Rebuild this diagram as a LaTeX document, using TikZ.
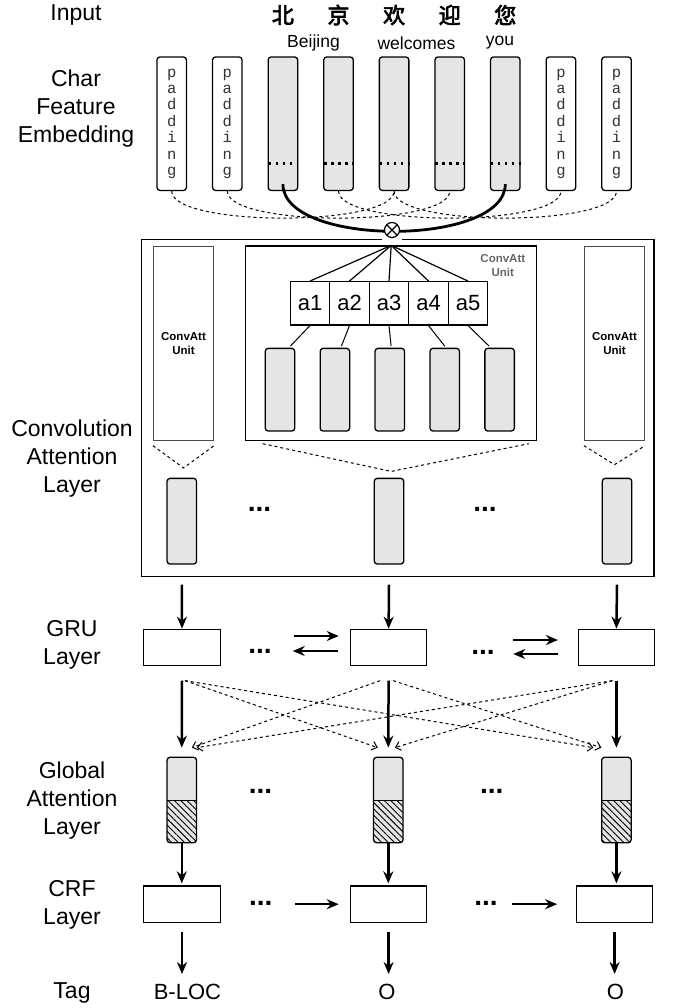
\documentclass[tikz,border=0pt]{standalone}
\usepackage{fontspec}
\setmainfont{Liberation Sans}
\setmonofont{Liberation Mono}
\newfontfamily\cjk[AutoFakeBold=3]{Noto Sans CJK SC}
\usetikzlibrary{arrows.meta,patterns.meta}

\begin{document}
\begin{tikzpicture}[x=1pt,y=-1pt,
        lbl/.style={align=center,font=\fontsize{23}{28}\selectfont},
        emb/.style={draw,line width=1.3pt,rounded corners=3pt,minimum width=29.5pt,minimum height=133.5pt,inner sep=0pt},
        pad/.style={emb,align=center,text=black!80,font=\fontsize{15.5}{16.4}\selectfont\ttfamily},
        word/.style={emb,fill=gray!20},
        col/.style={draw,line width=1.3pt,rounded corners=3pt,fill=gray!20,minimum width=29.5pt,minimum height=#1,inner sep=0pt},
        att/.style={col=85.4pt,path picture={
            \fill[pattern={Lines[angle=-45,distance=4.5pt,line width=0.9pt]}] (path picture bounding box.west) rectangle (path picture bounding box.south east);
            \draw[line width=1pt] (path picture bounding box.west) -- (path picture bounding box.east);}},
        unit/.style={draw=black!70,line width=1.3pt,minimum width=59.9pt,minimum height=194pt,inner sep=0pt,align=center,font=\fontsize{11.5}{14.5}\selectfont\bfseries},
        cell/.style={draw,line width=1.2pt,minimum width=39.5pt,minimum height=43.3pt,inner sep=0pt,font=\fontsize{22}{22}\selectfont},
        box/.style={draw,line width=1.3pt,minimum width=76.4pt,minimum height=36.4pt,inner sep=0pt},
        dots/.style={font=\fontsize{28}{28}\selectfont\bfseries,inner sep=0pt},
        arr/.style={line width=2.5pt,-{Stealth[length=12pt,width=10pt]}},
        darr/.style={dashed,line width=1pt,-{Straight Barb[length=5pt,width=9pt]}},
        mul/.style={circle,draw,line width=1.2pt,fill=white,minimum size=15pt,inner sep=0pt,path picture={
            \draw[line width=1.2pt] (path picture bounding box.north west) -- (path picture bounding box.south east)
                (path picture bounding box.north east) -- (path picture bounding box.south west);}}]
    \useasboundingbox (0,0) rectangle (673,1008);

    % layer names
    \node[lbl] (linput) at (76,15) {Input};
    \node[lbl] (lemb) at (76,109) {Char\\Feature\\Embedding};
    \node[lbl] (lconv) at (72,459) {Convolution\\Attention\\Layer};
    \node[lbl] (lgru) at (72,645) {GRU\\Layer};
    \node[lbl] (latt) at (72,801) {Global\\Attention\\Layer};
    \node[lbl] (lcrf) at (72,905) {CRF\\Layer};
    \node[lbl] (ltag) at (72,993) {Tag};

    % input and char embeddings
    \foreach \i/\z in {3/北,4/京,5/欢,6/迎,7/您}
        \node[font=\fontsize{22}{22}\selectfont\cjk\bfseries] (z\i) at ({171.7+55.6*(\i-1)},15) {\z};
    \node[font=\fontsize{17.5}{17.5}\selectfont] (w1) at (313.5,43) {Beijing};
    \node[font=\fontsize{17.5}{17.5}\selectfont] (w2) at (416.5,43) {welcomes};
    \node[font=\fontsize{17.5}{17.5}\selectfont] (w3) at (500,43) {you};
    \foreach \i in {1,2,8,9}
        \node[pad] (c\i) at ({171.7+55.6*(\i-1)},123.7) {p\\a\\d\\d\\i\\n\\g};
    \foreach \i in {3,...,7} {
        \node[word] (c\i) at ({171.7+55.6*(\i-1)},123.7) {};
        \draw[line width=2.5pt,dash pattern=on 2.5pt off 4.5pt] ([xshift=1pt,yshift=27.5pt]c\i.south west) -- ([yshift=27.5pt]c\i.south east);
    }

    % convolution attention layer
    \node[draw,line width=1.3pt,minimum width=512.2pt,minimum height=337.4pt,inner sep=0pt] (conv) at (397.8,408) {};
    \draw[white,line width=2pt] (382,239.3) -- (402,239.3);
    \foreach \p/\q in {1/5,2/6,4/8,5/9}
        \draw[dashed,line width=1pt] (c\p.south) .. controls +(0,36) and +(0,36) .. (c\q.south);
    \draw[line width=2.8pt] ([yshift=7pt]c3.south) .. controls +(0,63) and +(0,63) .. ([yshift=7pt]c7.south);
    \node[mul] (mul) at (392,230) {};

    \node[unit] (uleft) at (183.5,343.7) {ConvAtt\\Unit};
    \node[unit] (uright) at (614.5,343.7) {ConvAtt\\Unit};
    \node[draw,line width=1.3pt,minimum width=290.8pt,minimum height=194.7pt,inner sep=0pt] (umid) at (391.2,343.4) {};
    \node[font=\fontsize{11.5}{14}\selectfont\bfseries,text=black!60,align=center] (umidlbl) at (502.8,266) {ConvAtt\\Unit};
    \foreach \i in {1,...,5} {
        \node[cell] (a\i) at ({310+39.5*(\i-1)},303.3) {a\i};
        \node[col=82.7pt] (k\i) at ({280+54.9*(\i-1)},389.7) {};
        \draw[line width=1.2pt] (umid.north) -- (a\i.north);
    }
    \foreach \i/\o in {1/10.4,2/6.5,3/1.3,4/0,5/-10.5}
        \draw[line width=1pt] (a\i.south) -- ([xshift=\o pt,yshift=1.6pt]k\i.north);

    \draw[dashed,line width=1pt] ([yshift=-4.3pt]uleft.south west) -- ([yshift=-26.6pt]uleft.south) -- ([yshift=-4.3pt]uleft.south east);
    \draw[dashed,line width=1pt] ([yshift=-4.3pt]uright.south west) -- ([yshift=-23.3pt]uright.south) -- ([yshift=-4.3pt]uright.south east);
    \draw[dashed,line width=1pt] ([xshift=17.6pt,yshift=-2.3pt]umid.south west) -- ([yshift=-30pt]umid.south) -- ([xshift=-8.5pt,yshift=-2.3pt]umid.south east);

    \node[col=85.7pt] (cv1) at (181.8,521.2) {};
    \node[col=85.7pt] (cv2) at (389,521.2) {};
    \node[col=85.7pt] (cv3) at (617,521.2) {};
    \node[dots] (cvd1) at (259.5,509) {...};
    \node[dots] (cvd2) at (485,509) {...};

    % GRU layer
    \node[box] (g1) at (182,647.5) {};
    \node[box] (g2) at (388.6,647.5) {};
    \node[box] (g3) at (616.4,647.5) {};
    \node[dots] (gd1) at (260,651) {...};
    \node[dots] (gd2) at (483,652) {...};
    \foreach \i in {1,2,3}
        \draw[arr] ([yshift=-20pt]cv\i.south) -- (g\i.north);
    \draw[arr] ([xshift=-56pt,yshift=11.5pt]g2.west) -- ([xshift=-11pt,yshift=11.5pt]g2.west);
    \draw[arr] ([xshift=-12pt,yshift=-3.5pt]g2.west) -- ([xshift=-57pt,yshift=-3.5pt]g2.west);
    \draw[arr] ([xshift=-64.3pt,yshift=7.5pt]g3.west) -- ([xshift=-19.6pt,yshift=7.5pt]g3.west);
    \draw[arr] ([xshift=-19.6pt,yshift=-6.5pt]g3.west) -- ([xshift=-64.3pt,yshift=-6.5pt]g3.west);

    % global attention layer
    \node[att] (t1) at (181.8,800) {};
    \node[att] (t2) at (388.3,800) {};
    \node[att] (t3) at (616.4,800) {};
    \node[dots] (td1) at (260.5,791.7) {...};
    \node[dots] (td2) at (491.8,791.7) {...};
    \foreach \i in {1,2,3}
        \draw[arr] ([yshift=-14.3pt]g\i.south) -- ([yshift=9pt]t\i.north);
    \draw[darr] ([xshift=3pt,yshift=-14.3pt]g1.south) -- ([xshift=-10.5pt,yshift=9pt]t2.north);
    \draw[darr] ([xshift=3pt,yshift=-14.3pt]g1.south) -- ([xshift=-23pt,yshift=9pt]t3.north);
    \draw[darr] ([xshift=-8.5pt,yshift=-14.3pt]g2.south) -- ([xshift=10pt,yshift=9pt]t1.north);
    \draw[darr] ([xshift=4.5pt,yshift=-14.3pt]g2.south) -- ([xshift=-15pt,yshift=9pt]t3.north);
    \draw[darr] ([xshift=-4pt,yshift=-14.3pt]g3.south) -- ([xshift=15pt,yshift=9pt]t1.north);
    \draw[darr] ([xshift=-4pt,yshift=-14.3pt]g3.south) -- ([xshift=6.5pt,yshift=9pt]t2.north);

    % CRF layer and tags
    \node[box] (r1) at (182,904.2) {};
    \node[box] (r2) at (388.6,904.2) {};
    \node[box] (r3) at (614.6,904.2) {};
    \node[dots] (rd1) at (260.8,903) {...};
    \node[dots] (rd2) at (486,903) {...};
    \foreach \i in {1,2,3}
        \draw[arr,shorten >=2pt] (t\i.south) -- (t\i.south |- r\i.north);
    \draw[arr] ([xshift=-55pt]r2.west) -- ([xshift=-11pt]r2.west);
    \draw[arr] ([xshift=-63.3pt]r3.west) -- ([xshift=-18.6pt]r3.west);
    \node[font=\fontsize{22}{22}\selectfont,inner sep=0pt] (o1) at (187.4,992) {B-LOC};
    \node[font=\fontsize{22}{22}\selectfont,inner sep=0pt] (o2) at (387,992) {O};
    \node[font=\fontsize{22}{22}\selectfont,inner sep=0pt] (o3) at (615.5,992) {O};
    \foreach \i in {1,2,3}
        \draw[arr,shorten >=10pt] ([yshift=-9.4pt]r\i.south) -- (r\i.south |- o\i.north);
\end{tikzpicture}
\end{document}
